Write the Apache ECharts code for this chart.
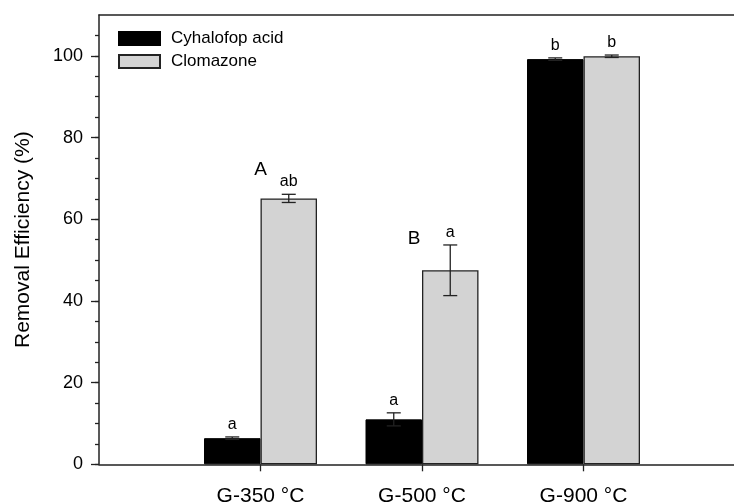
<!DOCTYPE html>
<html>
<head>
<meta charset="utf-8">
<script src="https://cdn.jsdelivr.net/npm/echarts@6/dist/echarts.min.js"></script>
<style>
html, body { margin: 0; padding: 0; background: #fff; }
#graph { width: 734px; height: 502px; }
</style>
</head>
<body>
<div id="graph"></div>
<script>
// data
var categories = ['G-350 °C', 'G-500 °C', 'G-900 °C'];
var cyhalofop = [6.4, 11.0, 99.2];
var cyhalofopErr = [0.3, 1.6, 0.3];
var clomazone = [65.1, 47.5, 99.9];
var clomazoneErr = [1.0, 6.2, 0.3];
var cyhalofopLetters = ['a', 'a', 'b'];
var clomazoneLetters = ['ab', 'a', 'b'];
var groupLetters = ['A', 'B'];
var groupLetterY = [72.2, 55.3];
var yTicks = [0, 20, 40, 60, 80, 100];

var FONT = '"Liberation Sans", Arial, sans-serif';
var BAR_W = 56.5;
var INK = '#222';

// one empty slot on each side so the categories sit at 1, 2, 3
var axisData = [''].concat(categories, [' ']);
function pad(list) {
    return ['-'].concat(list, ['-']);
}
var yMinorTicks = [];
for (var t = 0; t <= 105; t += 5) yMinorTicks.push(t);

function errData(vals, errs) {
    return vals.map(function (v, i) { return [i + 1, v, errs[i]]; });
}

function errorItem(offset, letters) {
    return function (params, api) {
        var i = api.value(0), v = api.value(1), e = api.value(2);
        var x = api.coord([i, 0])[0] + offset;
        var top = api.coord([i, v + e])[1];
        var bot = api.coord([i, v - e])[1];
        var st = { stroke: INK, lineWidth: 1.3 };
        return {
            type: 'group',
            children: [
                { type: 'line', shape: { x1: x, y1: top, x2: x, y2: bot }, style: st },
                { type: 'line', shape: { x1: x - 7, y1: top, x2: x + 7, y2: top }, style: st },
                { type: 'line', shape: { x1: x - 7, y1: bot, x2: x + 7, y2: bot }, style: st },
                {
                    type: 'text', x: x, y: top - 4.5,
                    style: {
                        text: letters[i - 1], font: '16px ' + FONT, fill: '#000',
                        align: 'center', verticalAlign: 'bottom'
                    }
                }
            ]
        };
    };
}

var letterShift = [0, -8];

var myChart = echarts.init(document.getElementById('graph'));
var option = {
    animation: false,
    textStyle: { fontFamily: FONT },
    grid: { left: 99, top: 15, width: 646, bottom: 37.7, outerBoundsMode: 'none', containLabel: false },
    legend: {
        orient: 'vertical',
        left: 118,
        top: 30,
        padding: 0,
        icon: 'rect',
        itemWidth: 41,
        itemHeight: 13,
        itemGap: 6,
        textStyle: { fontSize: 17, color: '#000', padding: [0, 0, 0, 6] },
        data: ['Cyhalofop acid', 'Clomazone']
    },
    xAxis: [{
        type: 'category',
        data: axisData,
        boundaryGap: false,
        axisLine: { lineStyle: { color: INK, width: 1.5 } },
        axisTick: {
            show: true,
            length: 7,
            interval: function (idx) { return idx >= 1 && idx <= categories.length; },
            lineStyle: { color: INK, width: 1.3 }
        },
        axisLabel: { interval: 0, fontSize: 21, color: '#000', margin: 21 },
        splitLine: { show: false }
    }, {
        type: 'category',
        position: 'top',
        data: axisData,
        boundaryGap: false,
        axisLine: { onZero: false, lineStyle: { color: INK, width: 1.5 } },
        axisTick: { show: false },
        axisLabel: { show: false },
        splitLine: { show: false }
    }],
    yAxis: [{
        type: 'value',
        min: 0,
        max: 110,
        interval: 20,
        name: 'Removal Efficiency (%)',
        nameLocation: 'middle',
        nameRotate: 90,
        nameGap: 65,
        nameTextStyle: { fontSize: 21, color: '#000' },
        axisLine: { show: true, lineStyle: { color: INK, width: 1.5 } },
        axisTick: { show: true, length: 8, customValues: yTicks, lineStyle: { color: INK, width: 1.3 } },
        axisLabel: { customValues: yTicks, fontSize: 18, color: '#000', margin: 16 },
        splitLine: { show: false }
    }, {
        type: 'value',
        position: 'left',
        min: 0,
        max: 110,
        interval: 5,
        axisLine: { show: false },
        axisTick: { show: true, length: 4, customValues: yMinorTicks, lineStyle: { color: INK, width: 1.3 } },
        axisLabel: { show: false },
        splitLine: { show: false }
    }],
    series: [
        {
            name: 'Cyhalofop acid',
            type: 'bar',
            barWidth: BAR_W,
            barGap: '0%',
            itemStyle: { color: '#000', borderColor: '#000', borderWidth: 1 },
            data: pad(cyhalofop)
        },
        {
            name: 'Clomazone',
            type: 'bar',
            barWidth: BAR_W,
            barGap: '0%',
            itemStyle: { color: '#d3d3d3', borderColor: INK, borderWidth: 1.3 },
            data: pad(clomazone)
        },
        {
            type: 'custom',
            silent: true,
            z: 5,
            renderItem: errorItem(-BAR_W / 2, cyhalofopLetters),
            encode: { x: 0, y: 1 },
            data: errData(cyhalofop, cyhalofopErr)
        },
        {
            type: 'custom',
            silent: true,
            z: 5,
            renderItem: errorItem(BAR_W / 2, clomazoneLetters),
            encode: { x: 0, y: 1 },
            data: errData(clomazone, clomazoneErr)
        },
        {
            type: 'custom',
            silent: true,
            z: 5,
            renderItem: function (params, api) {
                var i = api.value(0);
                var p = api.coord([i, api.value(1)]);
                return {
                    type: 'text', x: p[0] + letterShift[i - 1], y: p[1],
                    style: {
                        text: groupLetters[i - 1], font: '19px ' + FONT, fill: '#000',
                        align: 'center', verticalAlign: 'middle'
                    }
                };
            },
            encode: { x: 0, y: 1 },
            data: groupLetterY.map(function (y, i) { return [i + 1, y]; })
        }
    ]
};
myChart.setOption(option);
</script>
</body>
</html>
